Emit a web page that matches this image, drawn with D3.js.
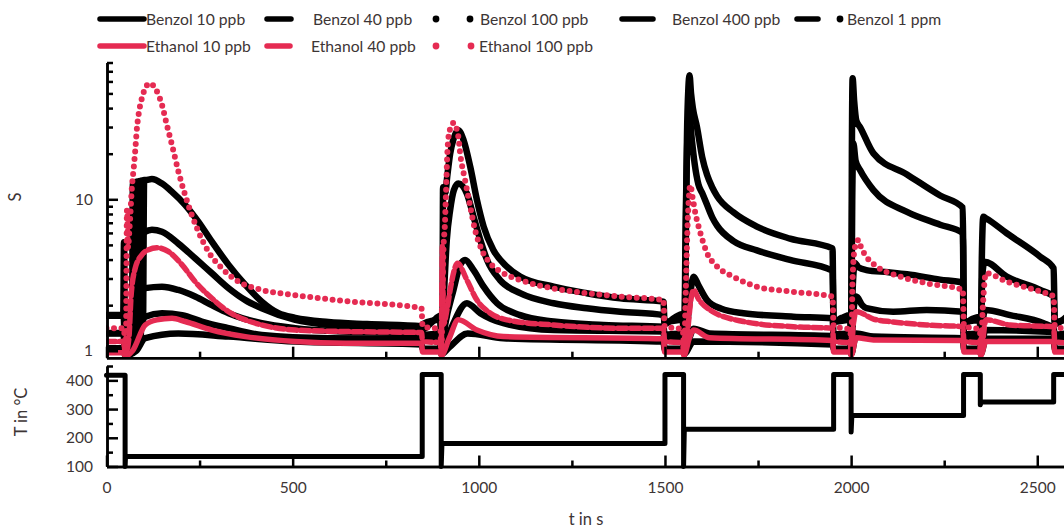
<!DOCTYPE html>
<html>
<head>
<meta charset="utf-8">
<script src="https://cdn.jsdelivr.net/npm/d3@7"></script>
<style>
  html, body { margin: 0; padding: 0; background: #fff; }
  svg { display: block; font-family: Lato, "Open Sans", sans-serif; }
</style>
</head>
<body>
<svg id="chart" width="1064" height="530"></svg>
<script>
// ---- sensor response S (t in s, S) ----
const benzol1ppm = [[0,1.72],[45,1.72],[47,5.2],[50,0.95],[62,0.95],[68,1.0],[71,12.8],[74,1.0],[77,13.0],[80,1.05],[83,13.1],[86,1.1],[89,13.2],[92,1.2],[95,13.3],[98,1.5],[101,13.4],[104,13.4],[122,13.6],[149,12.7],[176,11.2],[211,9.2],[247,7.1],[283,5.25],[328,3.69],[373,2.72],[417,2.11],[462,1.77],[507,1.65],[596,1.55],[700,1.5],[846,1.45],
  [849,1.38],[875,1.55],[897,1.7],
  [899,0.97],[902,0.97],[904,12],[910,11],[915,14],[923,20],[932,25],[945,28.6],[959,24.6],[977,16.4],[995,9.9],[1013,6.6],[1039,4.63],[1075,3.6],[1111,3.09],[1201,2.65],[1290,2.4],[1380,2.22],[1496,2.11],
  [1499,1.5],[1525,1.65],[1548,1.75],
  [1551,0.97],[1555,3],[1559,25],[1563,55],[1566,66],[1570,50],[1575,40],[1586,30],[1600,19],[1613,14.5],[1627,12],[1640,10.5],[1684,8.2],[1747,6.6],[1836,5.5],[1950,4.74],
  [1953,1.55],[1975,1.65],[1998,1.72],
  [2000,0.97],[2002,20],[2004,63],[2008,45],[2014,33],[2024,30],[2060,20.1],[2150,14.6],[2239,10.6],[2300,8.8],
  [2303,1.5],[2325,1.62],[2346,1.68],
  [2348,1.0],[2351,4],[2355,7.66],[2362,7.5],[2418,5.97],[2508,4.18],[2544,3.5],
  [2547,1.5],[2575,1.65]];

const benzol400 = [[0,1.7],[46,1.7],[50,0.95],[68,1.0],[80,3.5],[90,5.5],[104,6.1],[122,6.3],[149,6.1],[193,5.1],[238,4.08],[283,3.25],[328,2.59],[373,2.16],[417,1.91],[507,1.6],[596,1.48],[700,1.43],[846,1.4],
  [849,1.5],[897,1.6],
  [899,0.97],[905,2.0],[914,5.39],[923,8.5],[933,11.5],[945,12.7],[968,10.9],[986,7.66],[1004,5.39],[1022,3.98],[1057,2.93],[1111,2.4],[1201,2.06],[1290,1.91],[1380,1.81],[1496,1.72],
  [1499,1.55],[1548,1.6],
  [1551,0.97],[1556,8],[1561,28],[1566,35],[1572,25],[1580,17],[1590,12.5],[1600,11],[1613,9.2],[1627,7.6],[1640,6.7],[1684,5.3],[1747,4.6],[1836,3.98],[1950,3.38],
  [1953,1.55],[1998,1.6],
  [2000,0.97],[2003,10],[2006,23.4],[2012,18],[2024,15.6],[2060,11.5],[2150,8.26],[2239,6.8],[2300,5.97],
  [2303,1.55],[2346,1.6],
  [2348,1.0],[2352,3.0],[2358,3.87],[2418,3.09],[2508,2.52],[2544,2.28],
  [2547,1.55],[2575,1.6]];

const benzol100 = [[0,1.31],[46,1.31],[50,0.95],[72,1.0],[95,2.4],[104,2.59],[149,2.65],[193,2.52],[238,2.28],[283,2.0],[328,1.77],[417,1.52],[507,1.41],[632,1.34],[846,1.3],
  [849,1.27],[897,1.3],
  [899,0.97],[910,1.5],[932,2.52],[950,3.69],[963,3.98],[986,3.41],[1013,2.65],[1049,2.06],[1111,1.72],[1201,1.56],[1335,1.48],[1496,1.44],
  [1499,1.28],[1548,1.3],
  [1551,0.97],[1560,1.5],[1570,2.6],[1577,3.08],[1590,2.7],[1613,2.16],[1650,1.9],[1711,1.77],[1845,1.68],[1950,1.64],
  [1953,1.28],[1998,1.3],
  [2000,0.97],[2004,2.5],[2010,3.8],[2020,3.55],[2041,3.41],[2100,3.3],[2150,3.2],[2239,2.95],[2300,2.82],
  [2303,1.28],[2346,1.3],
  [2348,0.97],[2353,1.5],[2360,1.86],[2427,1.72],[2517,1.52],[2544,1.41],
  [2547,1.28],[2575,1.3]];

const benzol40 = [[0,1.3],[46,1.3],[50,0.95],[75,1.0],[95,1.55],[104,1.68],[149,1.77],[203,1.72],[256,1.56],[328,1.41],[417,1.27],[596,1.21],[846,1.2],
  [849,1.18],[897,1.2],
  [899,0.97],[915,1.2],[932,1.52],[968,2.06],[1004,1.77],[1066,1.52],[1201,1.37],[1496,1.34],
  [1499,1.18],[1548,1.2],
  [1551,0.97],[1565,1.2],[1577,1.4],[1620,1.3],[1950,1.25],
  [1953,1.18],[1998,1.2],
  [2000,0.97],[2006,1.8],[2014,2.28],[2030,2.0],[2041,1.91],[2113,1.81],[2203,1.86],[2300,1.81],
  [2303,1.18],[2346,1.2],
  [2348,0.97],[2360,1.37],[2544,1.33],
  [2547,1.18],[2575,1.2]];

const benzol10 = [[0,1.04],[46,1.04],[50,0.93],[80,1.0],[104,1.21],[193,1.3],[328,1.24],[507,1.15],[846,1.1],
  [849,1.03],[897,1.03],
  [899,0.95],[920,1.05],[970,1.3],[1066,1.21],[1496,1.15],
  [1499,1.03],[1548,1.03],
  [1551,0.95],[1577,1.15],[1950,1.1],
  [1953,1.03],[1998,1.03],
  [2000,0.95],[2014,1.3],[2060,1.24],[2300,1.21],
  [2303,1.03],[2346,1.03],
  [2348,0.95],[2362,1.2],[2544,1.2],
  [2547,1.03],[2575,1.03]];

const ethanol100 = [[0,1.41],[47,1.41],[50,0.95],[52,0.95],[55,8.5],[58,4.8],[61,6.0],[64,7.9],[68,11.8],[73,16],[77,20.7],[82,30],[86,36],[95,46.4],[104,53.9],[115,58.2],[131,54],[149,42],[162,31],[176,22.8],[193,15.3],[211,10.7],[229,7.9],[247,6.1],[274,4.5],[310,3.5],[355,2.86],[417,2.52],[507,2.33],[641,2.13],[846,1.91],
  [849,1.45],[897,1.38],
  [899,0.95],[903,2.5],[905,4.6],[909,6.9],[911,9.5],[913,13.4],[915,19],[921,28],[932,31.9],[945,25.9],[950,20],[963,13.4],[977,8.95],[990,6.26],[1008,4.63],[1031,3.78],[1066,3.25],[1111,2.93],[1200,2.58],[1290,2.4],[1380,2.28],[1496,2.16],
  [1499,1.45],[1548,1.38],
  [1551,0.95],[1556,2.5],[1560,6],[1564,10],[1568,12.4],[1575,10],[1581,8.26],[1595,6.0],[1613,4.42],[1640,3.6],[1684,3.08],[1747,2.65],[1836,2.46],[1950,2.28],
  [1953,1.45],[1998,1.38],
  [2000,0.95],[2004,3.0],[2010,4.8],[2020,5.39],[2026,4.87],[2041,4.18],[2069,3.6],[2131,3.09],[2203,2.79],[2300,2.52],
  [2303,1.45],[2346,1.38],
  [2348,0.95],[2354,2.0],[2362,3.25],[2418,2.86],[2508,2.46],[2544,2.28],
  [2547,1.45],[2575,1.4]];

const ethanol40 = [[0,1.15],[46,1.15],[50,0.93],[60,1.2],[66,2.3],[77,3.5],[95,4.3],[113,4.65],[135,4.79],[167,4.51],[203,3.69],[238,2.86],[283,2.22],[328,1.81],[373,1.6],[417,1.48],[507,1.37],[641,1.34],[846,1.32],
  [849,1.15],[897,1.13],
  [899,0.95],[902,4.9],[905,1.5],[915,1.9],[923,2.52],[943,3.78],[968,2.93],[995,2.16],[1031,1.77],[1075,1.6],[1201,1.48],[1380,1.41],[1496,1.41],
  [1499,1.15],[1548,1.13],
  [1551,0.95],[1560,1.3],[1570,2.2],[1577,2.52],[1590,2.2],[1621,1.86],[1711,1.56],[1845,1.44],[1950,1.41],
  [1953,1.15],[1998,1.13],
  [2000,0.95],[2006,1.5],[2014,1.81],[2060,1.62],[2113,1.55],[2203,1.48],[2300,1.44],
  [2303,1.15],[2346,1.13],
  [2348,0.95],[2362,1.6],[2427,1.48],[2544,1.44],
  [2547,1.15],[2575,1.13]];

const ethanol10 = [[0,0.97],[46,0.97],[50,0.92],[70,1.0],[104,1.48],[135,1.6],[176,1.64],[211,1.56],[283,1.37],[373,1.24],[507,1.15],[641,1.12],[846,1.12],
  [849,0.98],[897,0.98],
  [899,0.93],[920,1.2],[945,1.6],[995,1.37],[1066,1.24],[1496,1.2],
  [1499,0.98],[1548,0.98],
  [1551,0.93],[1565,1.2],[1577,1.37],[1620,1.22],[1950,1.17],
  [1953,0.98],[1998,0.98],
  [2000,0.93],[2014,1.22],[2060,1.18],[2300,1.17],
  [2303,0.98],[2346,0.98],
  [2348,0.93],[2362,1.15],[2544,1.15],
  [2547,0.98],[2575,0.98]];

// ---- heater temperature profile (t in s, T in °C) ----
const temperature = [[0,418],[50,418],[50,100],[51,135],[848,135],[848,420],[899,420],[899,100],[901,180],
  [1500,180],[1500,420],[1550,420],[1550,100],[1552,230],[1953,230],[1953,420],[2000,420],[2000,220],[2002,278],
  [2302,278],[2302,420],[2347,420],[2347,315],[2349,325],[2544,325],[2544,420],[2575,420]];

// ---- axis ticks ----
const timeMajor = [0, 500, 1000, 1500, 2000, 2500];
const timeMinor = [250, 750, 1250, 1750, 2250];
const sMajor = [1, 10];
const sMinor = [2, 3, 4, 5, 6, 7, 8, 9, 20, 30, 40, 50, 60, 70, 80];
const tempMajor = [100, 200, 300, 400];
const tempMinor = [150, 250, 350, 450];

// ---- series table: name, data, colour, line style ----
const BLACK = "#000000";
const RED = "#e52b52";
const series = [
  { name: "Benzol 10 ppb",  data: benzol10,   color: BLACK, width: 6.5, dash: null },
  { name: "Benzol 40 ppb",  data: benzol40,   color: BLACK, width: 6.5, dash: null },
  { name: "Benzol 100 ppb", data: benzol100,  color: BLACK, width: 6.5, dash: null },
  { name: "Benzol 400 ppb", data: benzol400,  color: BLACK, width: 6.5, dash: null },
  { name: "Benzol 1 ppm",   data: benzol1ppm, color: BLACK, width: 6.5, dash: null },
  { name: "Ethanol 10 ppb", data: ethanol10,  color: RED,   width: 5.5, dash: null },
  { name: "Ethanol 40 ppb", data: ethanol40,  color: RED,   width: 5.5, dash: "9 4" },
  { name: "Ethanol 100 ppb",data: ethanol100, color: RED,   width: 6,   dash: "0 7.5" }
];

const svg = d3.select("#chart");
const TEXT = "#3d3535";

const x = d3.scaleLinear().domain([0, 2575]).range([106.5, 1065.2]);
const yS = d3.scaleLog().domain([0.9, 80]).range([357.7, 62.5]);
const yT = d3.scaleLinear().domain([100, 450]).range([466.5, 366]);

// clip for the response panel
svg.append("defs").append("clipPath").attr("id", "clipS")
  .append("rect").attr("x", 106).attr("y", 40).attr("width", 970).attr("height", 318);

// ---- response curves ----
const lineS = d3.line().x(d => x(d[0])).y(d => yS(d[1])).curve(d3.curveMonotoneX);
const gS = svg.append("g").attr("clip-path", "url(#clipS)");
series.forEach(s => {
  gS.append("path")
    .datum(s.data)
    .attr("d", lineS)
    .attr("fill", "none")
    .attr("stroke", s.color)
    .attr("stroke-width", s.width)
    .attr("stroke-linecap", "round")
    .attr("stroke-linejoin", "round")
    .attr("stroke-dasharray", s.dash);
});

// ---- temperature profile ----
const lineT = d3.line().x(d => x(d[0])).y(d => yT(d[1]));
svg.append("path")
  .datum(temperature)
  .attr("d", lineT)
  .attr("fill", "none")
  .attr("stroke", BLACK)
  .attr("stroke-width", 5)
  .attr("stroke-linejoin", "round")
  .attr("stroke-linecap", "round");

// ---- axes ----
function styleAxis(g) {
  g.select(".domain").attr("stroke", "#000").attr("stroke-width", 2.5);
  g.selectAll(".tick line").attr("stroke", "#000").attr("stroke-width", 2.5);
  g.selectAll(".tick text").attr("fill", TEXT).style("font-size", "15.5px").style("font-family", "Lato, 'Open Sans', sans-serif");
}

// upper panel x axis (no labels)
svg.append("g").attr("transform", "translate(0,357.7)")
  .call(d3.axisBottom(x).tickValues(timeMajor).tickSize(-11).tickSizeOuter(0).tickFormat(""))
  .call(styleAxis);
svg.append("g").attr("transform", "translate(0,357.7)")
  .call(d3.axisBottom(x).tickValues(timeMinor).tickSize(-6).tickSizeOuter(0).tickFormat(""))
  .call(styleAxis);

// lower panel x axis
svg.append("g").attr("transform", "translate(0,466.5)")
  .call(d3.axisBottom(x).tickValues(timeMajor).tickSize(-11).tickSizeOuter(0).tickPadding(15).tickFormat(d3.format("d")))
  .call(styleAxis);
svg.append("g").attr("transform", "translate(0,466.5)")
  .call(d3.axisBottom(x).tickValues(timeMinor).tickSize(-6).tickSizeOuter(0).tickFormat(""))
  .call(styleAxis);

// upper panel y axis (log)
svg.append("g").attr("transform", "translate(107,0)")
  .call(d3.axisLeft(yS).tickValues(sMajor).tickSize(-11).tickSizeOuter(0).tickPadding(14).tickFormat(d3.format("d")))
  .call(styleAxis);
svg.append("g").attr("transform", "translate(107,0)")
  .call(d3.axisLeft(yS).tickValues(sMinor).tickSize(-6).tickSizeOuter(0).tickFormat(""))
  .call(styleAxis);

// lower panel y axis
svg.append("g").attr("transform", "translate(107,0)")
  .call(d3.axisLeft(yT).tickValues(tempMajor).tickSize(-11).tickSizeOuter(0).tickPadding(14).tickFormat(d3.format("d")))
  .call(styleAxis);
svg.append("g").attr("transform", "translate(107,0)")
  .call(d3.axisLeft(yT).tickValues(tempMinor).tickSize(-6).tickSizeOuter(0).tickFormat(""))
  .call(styleAxis);

// axis titles
svg.append("text").attr("transform", "translate(21,197) rotate(-90)")
  .attr("text-anchor", "middle").attr("fill", TEXT).style("font-size", "16.5px").text("S");
svg.append("text").attr("transform", "translate(27,412) rotate(-90)")
  .attr("text-anchor", "middle").attr("fill", TEXT).style("font-size", "16.5px").text("T in °C");
svg.append("text").attr("x", 586).attr("y", 525)
  .attr("text-anchor", "middle").attr("fill", TEXT).style("font-size", "16.5px").text("t in s");

// ---- legend ----
const legend = svg.append("g");
function legDash(x0, x1, y, color) {
  legend.append("line").attr("x1", x0).attr("x2", x1).attr("y1", y).attr("y2", y)
    .attr("stroke", color).attr("stroke-width", 5.5).attr("stroke-linecap", "round");
}
function legDot(cx, y, color) {
  legend.append("circle").attr("cx", cx).attr("cy", y).attr("r", 3.4).attr("fill", color);
}
function legText(x0, y, label) {
  legend.append("text").attr("x", x0).attr("y", y + 5.5).attr("fill", TEXT)
    .style("font-size", "15.7px").text(label);
}
const r1 = 19, r2 = 46;
legDash(100, 144, r1, BLACK);            legText(146, r1, series[0].name);
legDash(267, 291, r1, BLACK);            legText(313, r1, series[1].name);
legDot(436, r1, BLACK); legDot(470, r1, BLACK); legText(480, r1, series[2].name);
legDash(622, 653, r1, BLACK);            legText(672, r1, series[3].name);
legDash(797, 818, r1, BLACK); legDot(840, r1, BLACK); legText(847, r1, series[4].name);
legDash(100, 144, r2, RED);              legText(146, r2, series[5].name);
legDash(267, 290, r2, RED);              legText(311, r2, series[6].name);
legDot(436, r2, RED); legDot(471, r2, RED); legText(479, r2, series[7].name);
</script>
</body>
</html>
